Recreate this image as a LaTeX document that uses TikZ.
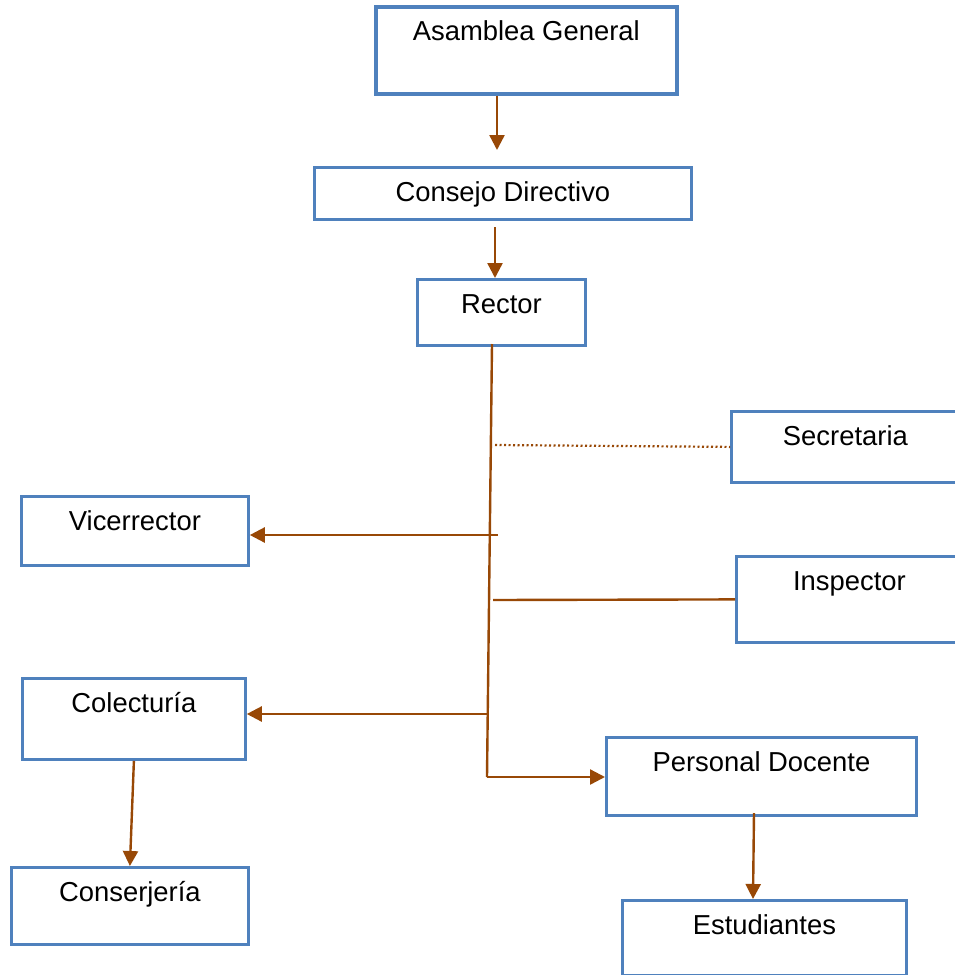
\documentclass[tikz,border=0pt]{standalone}
\usepackage{fontspec}
\setmainfont{Liberation Sans}
\usetikzlibrary{arrows.meta}
\definecolor{boxblue}{RGB}{79,129,189}
\definecolor{linkbrown}{RGB}{152,72,6}
\tikzset{
  orgbox/.style={draw=boxblue, line width=2.8pt, fill=white, inner sep=0pt, anchor=north west,
    text height=34pt, align=center, font=\fontsize{27.4}{31}\selectfont},
  link/.style={draw=linkbrown, line width=2.4pt},
  arrowlink/.style={link, -{Triangle[length=15pt,width=15pt]}},
  dotlink/.style={draw=linkbrown, line width=2.2pt, dash pattern=on 2pt off 2.5pt}
}
\begin{document}
\begin{tikzpicture}[x=1pt,y=-1pt]
\useasboundingbox (0,0) rectangle (954,975);
\node[orgbox, line width=3.6pt, minimum width=301pt, text depth=53pt] (AG) at (374,5) {Asamblea General};
\node[orgbox, minimum width=377pt, text depth=18pt] (CD) at (313,166) {Consejo Directivo};
\node[orgbox, minimum width=168pt, text depth=32pt] (R) at (416,278) {Rector};
\node[orgbox, minimum width=228pt, text depth=37pt] (S) at (730,410) {Secretaria};
\node[orgbox, minimum width=227pt, text depth=35pt] (V) at (20,495) {Vicerrector};
\node[orgbox, minimum width=226pt, text depth=52pt] (I) at (735,555) {Inspector};
\node[orgbox, minimum width=223pt, text depth=47pt] (C) at (21,677) {Colecturía};
\node[orgbox, minimum width=310pt, text depth=44pt] (P) at (605,736) {Personal Docente};
\node[orgbox, minimum width=237pt, text depth=43pt] (K) at (10,866) {Conserjería};
\node[orgbox, minimum width=284pt, text depth=41pt] (E) at (621,899) {Estudiantes};

\coordinate (a0) at (497,150);
\coordinate (a1) at (495,227);
\coordinate (t0) at (492,344);
\coordinate (t1) at (487,777);
\coordinate (bs) at (495,445);
\coordinate (bv) at (498,535);
\coordinate (bi) at (493,600);
\coordinate (bc) at (487,714);
\coordinate (pd) at (754,813);
\coordinate (es) at (753,899);

\draw[arrowlink] (a0 |- AG.south) -- (a0);
\draw[arrowlink] (a1) -- (a1 |- R.north);
\draw[link] (t0) -- (t1);
\draw[arrowlink] (t1) -- (t1 -| P.west);
\draw[dotlink] (bs) -- (S.west);
\draw[arrowlink] (bv) -- (bv -| V.east);
\draw[link] (bi) -- (I.west);
\draw[arrowlink] (bc) -- (bc -| C.east);
\draw[arrowlink] (C.south) -- (K.north);
\draw[arrowlink] (pd) -- (es);
\end{tikzpicture}
\end{document}
